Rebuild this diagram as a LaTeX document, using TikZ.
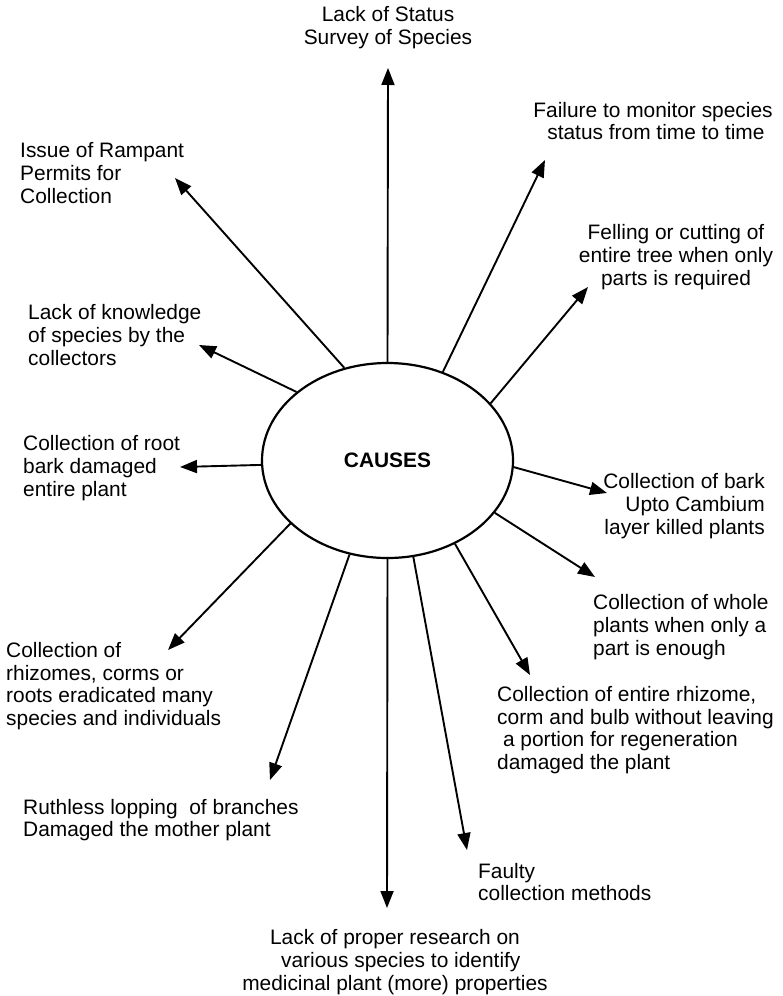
\documentclass[tikz,border=0pt]{standalone}
\usepackage{fontspec}
\setmainfont{Liberation Sans}
\usetikzlibrary{shapes.geometric,arrows.meta}

\tikzset{
  lbl/.style={inner sep=0pt, font=\fontsize{20.9}{22.8}\selectfont},
  hub/.style={draw, ellipse, line width=2.2pt, minimum width=251pt,
              minimum height=195pt, inner sep=0pt,
              font=\fontsize{20.9}{22.8}\selectfont\bfseries},
  arr/.style={line width=1.9pt, -{Triangle[length=17pt,width=13pt]}}
}

\begin{document}
\begin{tikzpicture}[x=1pt,y=-1pt]
  \useasboundingbox[fill=white] (0,0) rectangle (783,996);

  % central ellipse
  \node[hub] (c) at (387.5,460.5) {CAUSES};

  % labels around the ellipse
  \node[lbl, align=center] (l1) at (388,27.5) {Lack of Status\\Survey of Species};
  \node[lbl, align=left, anchor=west] (l2) at (20,173) {Issue of Rampant\\Permits for\\Collection};
  \node[lbl, align=center] (l3) at (653,121) {Failure to monitor species\\\ status from time to time};
  \node[lbl, align=center] (l4) at (676,257) {Felling or cutting of\\entire tree when only\\parts is required};
  \node[lbl, align=left, anchor=west] (l5) at (28,335) {Lack of knowledge\\of species by the\\collectors};
  \node[lbl, align=left, anchor=west] (l6) at (23,468) {Collection of root\\bark damaged\\entire plant};
  \node[lbl, align=right, anchor=east] (l7) at (765,506) {Collection of bark\\Upto Cambium\\layer killed plants};
  \node[lbl, align=left, anchor=west] (l8) at (593,627) {Collection of whole\\plants when only a\\part is enough};
  \node[lbl, align=left, anchor=west] (l9) at (497,730) {Collection of entire rhizome,\\corm and bulb without leaving\\\ a portion for regeneration\\damaged the plant};
  \node[lbl, align=left, anchor=west] (l10) at (6,686) {Collection of\\rhizomes, corms or\\roots eradicated many\\species and individuals};
  \node[lbl, align=left, anchor=west] (l11) at (23,820) {Ruthless lopping\ \ of branches\\Damaged the mother plant};
  \node[lbl, align=left, anchor=west] (l12) at (478,882) {Faulty\\collection methods};
  \node[lbl, align=center] (l13) at (395,962) {Lack of proper research on\\\ \ various species to identify\\medicinal plant (more) properties};

  % arrow tips
  \coordinate (t1) at (388,68);
  \coordinate (t2) at (175,178);
  \coordinate (t3) at (545,160);
  \coordinate (t4) at (588,287);
  \coordinate (t5) at (199,345);
  \coordinate (t6) at (180,467);
  \coordinate (t7) at (607,493);
  \coordinate (t8) at (595,577);
  \coordinate (t9) at (530,675);
  \coordinate (t10) at (467,850);
  \coordinate (t11) at (387,908);
  \coordinate (t12) at (270,780);
  \coordinate (t13) at (168,650);

  % arrows from the ellipse rim
  \draw[arr] (c.90)    -- (t1);
  \draw[arr] (c.115.2) -- (t2);
  \draw[arr] (c.58.5)  -- (t3);
  \draw[arr] (c.29.7)  -- (t4);
  \draw[arr] (c.143.6) -- (t5);
  \draw[arr] (c.182.5) -- (t6);
  \draw[arr] (c.-3)    -- (t7);
  \draw[arr] (c.-26.9) -- (t8);
  \draw[arr] (c.-51.2) -- (t9);
  \draw[arr] (c.-75.6) -- (t10);
  \draw[arr] (c.-90)   -- (t11);
  \draw[arr] (c.-112.2) -- (t12);
  \draw[arr] (c.-147.9) -- (t13);
\end{tikzpicture}
\end{document}
